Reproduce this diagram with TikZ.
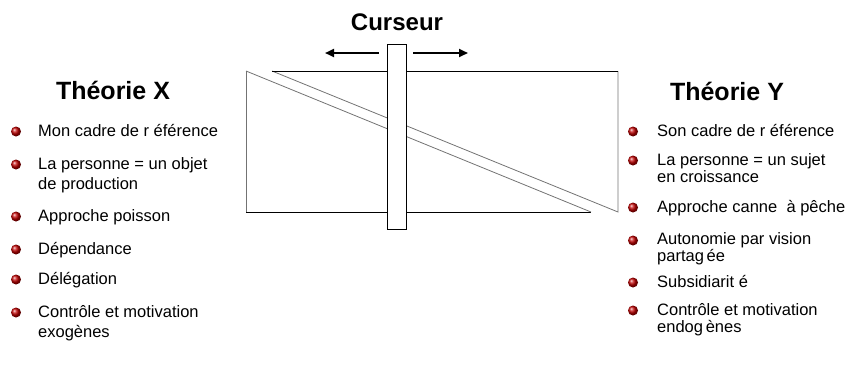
\documentclass[tikz,border=0pt]{standalone}
\usepackage{fontspec}
\setmainfont{Liberation Sans}
\usetikzlibrary{arrows.meta,positioning}

\begin{document}
\begin{tikzpicture}[x=1pt, y=-1pt,
  font=\fontsize{16.5}{20}\selectfont,
  ttl/.style={font=\fontsize{25}{28}\selectfont\bfseries, inner sep=0pt, anchor=base},
  item/.style={anchor=base west, inner sep=0pt, align=left},
  itemr/.style={item, font=\fontsize{16.5}{17}\selectfont},
  bul/.style={circle, inner sep=0pt, minimum size=10pt, ball color=red!75!black},
  edg/.style={line width=0.8pt, black!55},
  ar/.style={-{Triangle[length=9pt,width=8pt]}, line width=2.2pt}]
\useasboundingbox (0,0) rectangle (852,367);
% curseur et triangles
\draw[edg] (246,71) -- (246,212) -- (591,212);
\draw[line width=0.8pt] (246,212) -- (591,212);
\draw[edg] (246,71) -- (591,212);
\draw[edg] (272,71) -- (618,212) -- (618,71);
\draw[line width=0.8pt] (272,71) -- (618,71);
\node[draw, fill=white, line width=0.8pt, minimum width=19pt, minimum height=185pt, inner sep=0pt] (cur) at (396.5,136.5) {};
\node[ttl, font=\fontsize{24}{28}\selectfont\bfseries] (curt) at (397,30) {Curseur};
\coordinate (gau) at (325,53);
\coordinate (dro) at (468,53);
\draw[ar] ([xshift=-8pt]cur.west |- gau) -- (gau);
\draw[ar] ([xshift=7pt]cur.east |- dro) -- (dro);
% theorie X
\node[ttl] (tx) at (113,99) {Théorie X};
\node[item] (x1) at (38,136) {Mon cadre de r éférence};
\node[item] (x2) at (38,189) {La personne = un objet\\de production};
\node[item] (x3) at (38,221) {Approche poisson};
\node[item] (x4) at (38,254) {Dépendance};
\node[item] (x5) at (38,284) {Délégation};
\node[item] (x6) at (38,337) {Contrôle et motivation\\exogènes};
\node[bul] at (16,131.5) {};
\node[bul] at (16,164.5) {};
\node[bul] at (16,216.5) {};
\node[bul] at (16,249.5) {};
\node[bul] at (16,279.5) {};
\node[bul] at (16,312.5) {};
% theorie Y
\node[ttl] (ty) at (727,100) {Théorie Y};
\node[itemr] (y1) at (657,136) {Son cadre de r éférence};
\node[itemr] (y2) at (657,182) {La personne = un sujet\\en croissance};
\node[itemr] (y3) at (657,212) {Approche canne \ à pêche};
\node[itemr] (y4) at (657,261) {Autonomie par vision\\partag\,ée};
\node[itemr] (y5) at (657,287) {Subsidiarit é};
\node[itemr] (y6) at (657,332) {Contrôle et motivation\\endog\,ènes};
\node[bul] at (633,131.5) {};
\node[bul] at (633,160.5) {};
\node[bul] at (633,207.5) {};
\node[bul] at (633,240.5) {};
\node[bul] at (633,282.5) {};
\node[bul] at (633,310.5) {};
\end{tikzpicture}
\end{document}
